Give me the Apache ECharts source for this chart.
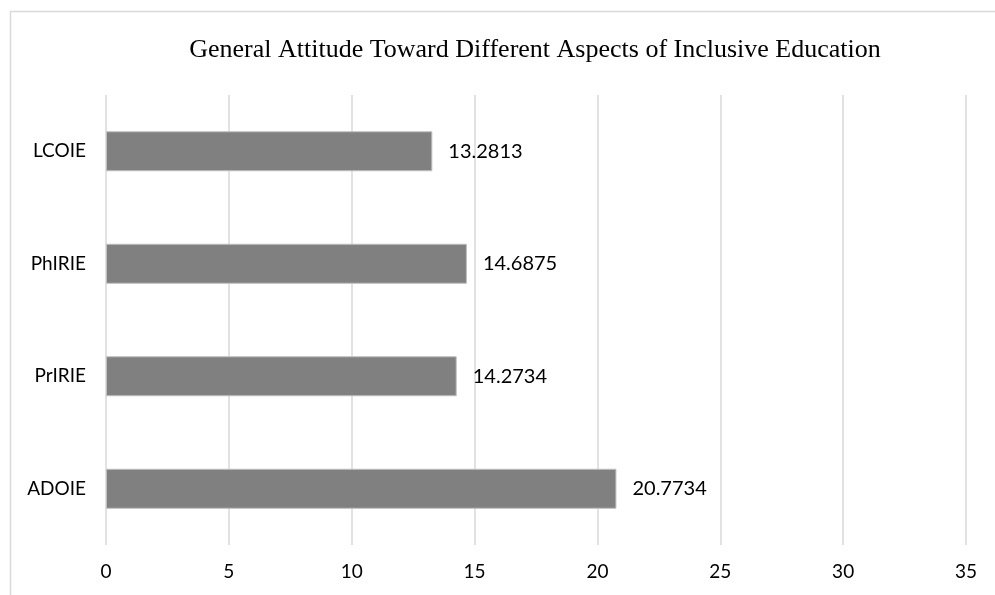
<!DOCTYPE html>
<html>
<head>
<meta charset="utf-8">
<script src="https://cdn.jsdelivr.net/npm/echarts@6/dist/echarts.min.js"></script>
<style>
  html, body { margin: 0; padding: 0; background: #fff; }
  #chart { width: 995px; height: 595px; }
</style>
</head>
<body>
<div id="chart"></div>
<script>
var categories = ['ADOIE', 'PrIRIE', 'PhIRIE', 'LCOIE']
var values = [20.7734, 14.2734, 14.6875, 13.2813]
var xTicks = [0, 5, 10, 15, 20, 25, 30, 35]

var chart = echarts.init(document.getElementById('chart'))
var option = {
  animation: false,
  title: {
    text: 'General Attitude Toward Different Aspects of Inclusive Education',
    left: 530,
    textAlign: 'center',
    top: 32,
    textStyle: {
      fontFamily: 'Liberation Serif',
      fontWeight: 'normal',
      fontSize: 26,
      color: '#000'
    }
  },
  graphic: [{
    type: 'rect',
    shape: { x: 10.5, y: 11.5, width: 1000, height: 600 },
    style: { fill: 'none', stroke: '#d9d9d9', lineWidth: 1.5 },
    silent: true
  }],
  grid: {
    left: 106,
    right: 29,
    top: 95,
    bottom: 50
  },
  xAxis: {
    type: 'value',
    min: xTicks[0],
    max: xTicks[xTicks.length - 1],
    interval: 5,
    axisLine: { show: false },
    axisTick: { show: false },
    splitLine: { lineStyle: { color: '#d9d9d9', width: 1.5 } },
    axisLabel: {
      margin: 17,
      fontFamily: 'Lato',
      fontSize: 19,
      color: '#000'
    }
  },
  yAxis: {
    type: 'category',
    data: categories,
    axisLine: { show: false },
    axisTick: { show: false },
    axisLabel: {
      margin: 20,
      fontFamily: 'Lato',
      fontSize: 19,
      color: '#000'
    }
  },
  series: [{
    type: 'bar',
    data: values,
    barWidth: 40,
    itemStyle: { color: '#808080', borderColor: '#bfbfbf', borderWidth: 1 },
    label: {
      show: true,
      position: 'right',
      distance: 16,
      formatter: function (p) { return p.value.toFixed(4) },
      fontFamily: 'Lato',
      fontSize: 20,
      color: '#000'
    }
  }]
}
chart.setOption(option)
</script>
</body>
</html>
